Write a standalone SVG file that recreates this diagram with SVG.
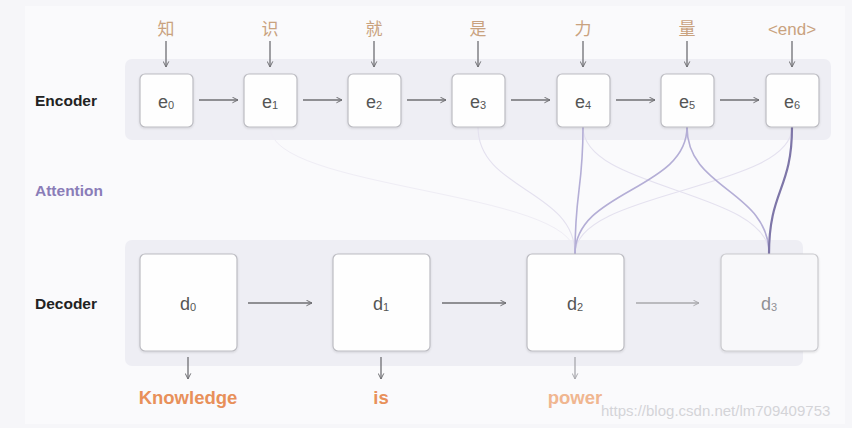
<svg xmlns="http://www.w3.org/2000/svg" width="852" height="428" viewBox="0 0 852 428">
<defs>
<marker id="ah" viewBox="0 0 10 10" refX="9" refY="5" markerWidth="7" markerHeight="7" orient="auto" markerUnits="userSpaceOnUse">
<path d="M1 1 L9 5 L1 9" fill="none" stroke="#6f6f73" stroke-width="1.4"/>
</marker>
<marker id="ahl" viewBox="0 0 10 10" refX="9" refY="5" markerWidth="7" markerHeight="7" orient="auto" markerUnits="userSpaceOnUse">
<path d="M1 1 L9 5 L1 9" fill="none" stroke="#a8a8ad" stroke-width="1.4"/>
</marker>
<filter id="sh" x="-10%" y="-10%" width="120%" height="125%">
<feDropShadow dx="0" dy="1" stdDeviation="0.8" flood-color="#000" flood-opacity="0.12"/>
</filter>
</defs>
<style>
.lbl{font-family:"Liberation Sans",Arial,sans-serif;font-weight:bold;font-size:15.5px;fill:#222}
.att{fill:#8a7db8}
.zh{font-family:"Noto Sans CJK SC","Liberation Sans",sans-serif;font-size:17px;fill:#c9a27f;text-anchor:middle}
.end{font-family:"Liberation Sans",Arial,sans-serif;font-size:17px;fill:#c9a27f;text-anchor:middle}
.box{fill:#fefefe;stroke:#bcbcc2;stroke-width:1.2}
.boxf{fill:#f8f8fa;stroke:#cacace;stroke-width:1.2}
.sym{font-family:"Liberation Sans",Arial,sans-serif;font-size:18px;fill:#555;text-anchor:middle}
.symf{fill:#909095}
.sub{font-size:11px}
.ar{stroke:#6f6f73;stroke-width:1.3;fill:none}
.arl{stroke:#a8a8ad;stroke-width:1.3;fill:none}
.out{font-family:"Liberation Sans",Arial,sans-serif;font-weight:bold;font-size:18.5px;fill:#e8905a;text-anchor:middle}
.panel{fill:#eeeef4}
.a1{fill:none;stroke:#e4e1ef;stroke-width:1.1}
.a2{fill:none;stroke:#b4aed6;stroke-width:1.6}
.a3{fill:none;stroke:#7e76a8;stroke-width:2.2}
.a0{fill:none;stroke:#efedf5;stroke-width:1}
</style>
<rect width="852" height="428" fill="#f6f6f9"/>
<rect x="25" y="6" width="820" height="418" fill="#fafafc"/>
<rect class="panel" x="125" y="59" width="706" height="81" rx="7"/>
<rect class="panel" x="125" y="240" width="678" height="126" rx="7"/>
<text class="lbl" x="35" y="106">Encoder</text>
<text class="lbl att" x="35" y="196">Attention</text>
<text class="lbl" x="35" y="309">Decoder</text>
<g id="connectors">
<path class="a0" d="M270 127 C270 190 575 190 575 254"/>
<path class="a1" d="M478 127 C478 190 575 190 575 254"/>
<path class="a1" d="M792 127 C792 190 575 190 575 254"/>
<path class="a1" d="M583 127 C583 190 769 190 769 254"/>
<path class="a2" d="M583 127 C583 190 575 190 575 254"/>
<path class="a2" d="M687 127 C687 190 575 190 575 254"/>
<path class="a2" d="M687 127 C687 190 769 190 769 254"/>
<path class="a3" d="M792 127 C792 190 769 190 769 254"/>
<path class="ar" marker-end="url(#ah)" d="M166 41 V67"/>
<path class="ar" marker-end="url(#ah)" d="M270 41 V67"/>
<path class="ar" marker-end="url(#ah)" d="M374 41 V67"/>
<path class="ar" marker-end="url(#ah)" d="M478 41 V67"/>
<path class="ar" marker-end="url(#ah)" d="M583 41 V67"/>
<path class="ar" marker-end="url(#ah)" d="M687 41 V67"/>
<path class="ar" marker-end="url(#ah)" d="M792 41 V67"/>
<path class="ar" marker-end="url(#ah)" d="M199 100 H238"/>
<path class="ar" marker-end="url(#ah)" d="M303 100 H342"/>
<path class="ar" marker-end="url(#ah)" d="M407 100 H446"/>
<path class="ar" marker-end="url(#ah)" d="M511 100 H550"/>
<path class="ar" marker-end="url(#ah)" d="M616 100 H655"/>
<path class="ar" marker-end="url(#ah)" d="M720 100 H759"/>
<path class="ar" marker-end="url(#ah)" d="M248 303 H312"/>
<path class="ar" marker-end="url(#ah)" d="M442 303 H506"/>
<path class="arl" marker-end="url(#ahl)" d="M636 303 H699"/>
<path class="ar" marker-end="url(#ah)" d="M188 357 V379"/>
<path class="ar" marker-end="url(#ah)" d="M381 357 V379"/>
<path class="arl" marker-end="url(#ahl)" d="M575 357 V379"/>
</g>
<text class="zh" x="166" y="35">知</text>
<text class="zh" x="270" y="35">识</text>
<text class="zh" x="374" y="35">就</text>
<text class="zh" x="478" y="35">是</text>
<text class="zh" x="583" y="35">力</text>
<text class="zh" x="687" y="35">量</text>
<text class="end" x="792" y="35">&lt;end&gt;</text>
<g id="e0"><rect class="box" filter="url(#sh)" x="140" y="74" width="53" height="53" rx="5"/><text class="sym" x="166" y="108">e<tspan class="sub" dy="1">0</tspan></text></g>
<g id="e1"><rect class="box" filter="url(#sh)" x="244" y="74" width="53" height="53" rx="5"/><text class="sym" x="270" y="108">e<tspan class="sub" dy="1">1</tspan></text></g>
<g id="e2"><rect class="box" filter="url(#sh)" x="348" y="74" width="53" height="53" rx="5"/><text class="sym" x="374" y="108">e<tspan class="sub" dy="1">2</tspan></text></g>
<g id="e3"><rect class="box" filter="url(#sh)" x="452" y="74" width="53" height="53" rx="5"/><text class="sym" x="478" y="108">e<tspan class="sub" dy="1">3</tspan></text></g>
<g id="e4"><rect class="box" filter="url(#sh)" x="557" y="74" width="53" height="53" rx="5"/><text class="sym" x="583" y="108">e<tspan class="sub" dy="1">4</tspan></text></g>
<g id="e5"><rect class="box" filter="url(#sh)" x="661" y="74" width="53" height="53" rx="5"/><text class="sym" x="687" y="108">e<tspan class="sub" dy="1">5</tspan></text></g>
<g id="e6"><rect class="box" filter="url(#sh)" x="766" y="74" width="53" height="53" rx="5"/><text class="sym" x="792" y="108">e<tspan class="sub" dy="1">6</tspan></text></g>
<g id="d0"><rect class="box" filter="url(#sh)" x="140" y="254" width="97" height="97" rx="5"/><text class="sym" x="188" y="310">d<tspan class="sub" dy="1">0</tspan></text></g>
<g id="d1"><rect class="box" filter="url(#sh)" x="333" y="254" width="97" height="97" rx="5"/><text class="sym" x="381" y="310">d<tspan class="sub" dy="1">1</tspan></text></g>
<g id="d2"><rect class="box" filter="url(#sh)" x="527" y="254" width="97" height="97" rx="5"/><text class="sym" x="575" y="310">d<tspan class="sub" dy="1">2</tspan></text></g>
<g id="d3"><rect class="boxf" filter="url(#sh)" x="721" y="254" width="97" height="97" rx="5"/><text class="sym symf" x="769" y="310">d<tspan class="sub" dy="1">3</tspan></text></g>
<text class="out" x="188" y="404">Knowledge</text>
<text class="out" x="381" y="404">is</text>
<text class="out" x="575" y="404" style="fill:#f0b690">power</text>
<text x="601" y="416" style="font-family:'Liberation Sans',Arial,sans-serif;font-size:15px;fill:#d4d4d8">https://blog.csdn.net/lm709409753</text>
</svg>
